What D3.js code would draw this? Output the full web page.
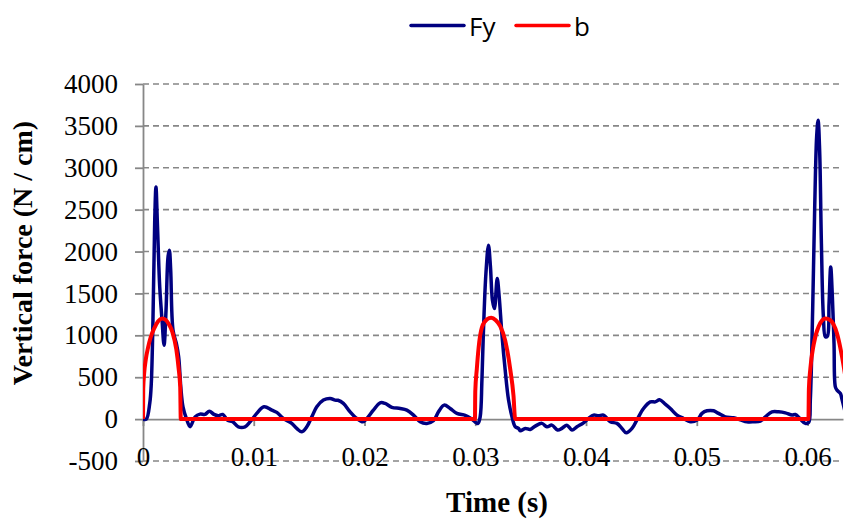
<!DOCTYPE html>
<html>
<head>
<meta charset="utf-8">
<script src="https://cdn.jsdelivr.net/npm/d3@7"></script>
<style>
  body { margin: 0; background: #fff; }
  svg { display: block; }
</style>
</head>
<body>
<svg id="chart" width="849" height="524"></svg>
<script>
// Fy series (time in s, force in N/cm)
const fyTime = [0, 0.00030, 0.00061, 0.00075, 0.00090, 0.00106, 0.00117, 0.00129, 0.00151, 0.00172,
  0.00190, 0.00208, 0.00226, 0.00238, 0.00250, 0.00271, 0.00301, 0.00322, 0.00341, 0.00361,
  0.00391, 0.00425, 0.00470, 0.00515, 0.00560, 0.00599, 0.00641, 0.00680, 0.00720, 0.00762,
  0.00810, 0.00861, 0.00921, 0.00967, 0.01027, 0.01093, 0.01163, 0.01208, 0.01267, 0.01343,
  0.01388, 0.01434, 0.01479, 0.01524, 0.01569, 0.01629, 0.01690, 0.01734, 0.01760, 0.01809,
  0.01870, 0.01930, 0.01985, 0.02021, 0.02080, 0.02141, 0.02186, 0.02247, 0.02322, 0.02382,
  0.02442, 0.02502, 0.02563, 0.02622, 0.02668, 0.02719, 0.02773, 0.02834, 0.02909, 0.02954,
  0.02999, 0.03024, 0.03044, 0.03060, 0.03074, 0.03096, 0.03119, 0.03137, 0.03155, 0.03173,
  0.03198, 0.03216, 0.03240, 0.03270, 0.03300, 0.03331, 0.03360, 0.03390, 0.03406, 0.03451,
  0.03496, 0.03541, 0.03602, 0.03647, 0.03692, 0.03743, 0.03782, 0.03827, 0.03873, 0.03918,
  0.03977, 0.04023, 0.04068, 0.04113, 0.04158, 0.04219, 0.04279, 0.04324, 0.04363, 0.04415,
  0.04460, 0.04519, 0.04580, 0.04625, 0.04664, 0.04715, 0.04761, 0.04821, 0.04881, 0.04941,
  0.05002, 0.05047, 0.05092, 0.05152, 0.05197, 0.05257, 0.05332, 0.05393, 0.05453, 0.05513,
  0.05574, 0.05619, 0.05679, 0.05739, 0.05799, 0.05860, 0.05890, 0.05935, 0.05980, 0.06010,
  0.06025, 0.06046, 0.06064, 0.06082, 0.06095, 0.06109, 0.06125, 0.06143, 0.06161, 0.06179,
  0.06194, 0.06209, 0.06224, 0.06239, 0.06251, 0.06266, 0.06296, 0.06312, 0.06335];
const fyValue = [0, 0, 190, 430, 1180, 2375, 2770, 2375, 1578, 1181,
  883, 1300, 1936, 2016, 1778, 1062, 903, 743, 385, 147,
  10, -90, 27, 60, 56, 95, 56, 40, 56, -12,
  -32, -92, -92, -32, 68, 147, 107, 80, 8, -51,
  -111, -151, -92, 27, 147, 227, 247, 227, 225, 187,
  87, 8, -32, 8, 107, 195, 187, 140, 127, 107,
  48, -32, -51, -20, 87, 167, 127, 68, 45, 15,
  -35, -51, 27, 465, 1062, 1738, 2076, 1817, 1420, 1320,
  1679, 1460, 1022, 585, 230, 30, -90, -111, -140, -111,
  -123, -84, -51, -92, -72, -131, -111, -72, -131, -92,
  -44, 8, 48, 39, 48, -32, -51, -111, -163, -111,
  -8, 127, 206, 206, 230, 179, 127, 48, 8, -32,
  -12, 68, 99, 99, 68, 27, 16, -8, -32, -32,
  -24, 27, 87, 87, 75, 48, 55, 0, -51, -40,
  230, 1300, 2493, 3368, 3567, 3209, 2096, 1220, 982, 990,
  1380, 1817, 1460, 903, 385, 346, 306, 230, 107];

// b series
const bTime = [0, 0.00002, 0.00010, 0.00025, 0.00045, 0.00070, 0.00100, 0.00135, 0.00172, 0.00205,
  0.00235, 0.00265, 0.00301, 0.00322, 0.00336, 0.00341,
  0.02997, 0.03000, 0.03014, 0.03030, 0.03060, 0.03105, 0.03144, 0.03185, 0.03225, 0.03270,
  0.03315, 0.03345, 0.03360,
  0.06008, 0.06012, 0.06025, 0.06055, 0.06100, 0.06161, 0.06206, 0.06266, 0.06312, 0.06340];
const bValue = [0, 360, 540, 710, 850, 980, 1080, 1165, 1200, 1185,
  1130, 1040, 830, 600, 380, 0,
  0, 330, 600, 850, 1095, 1190, 1210, 1180, 1110, 940,
  600, 280, 0,
  0, 360, 600, 890, 1105, 1200, 1180, 1020, 740, 520];

const seriesNames = ["Fy", "b"];
const seriesColors = ["#000080", "#ff0000"];
const yTicks = [-500, 0, 500, 1000, 1500, 2000, 2500, 3000, 3500, 4000];
const xTicks = [0, 0.01, 0.02, 0.03, 0.04, 0.05, 0.06];

const svg = d3.select("#chart");
const plotLeft = 143, plotRight = 843, plotTop = 84, plotBottom = 461;
const gray = "#878787";
const serif = "'Liberation Serif', 'Times New Roman', serif";

const x = d3.scaleLinear().domain([0, 0.0632]).range([plotLeft, plotRight]);
const y = d3.scaleLinear().domain([-500, 4000]).range([plotBottom, plotTop]);

svg.append("rect").attr("width", 849).attr("height", 524).attr("fill", "#fff");

// dashed gridlines
svg.append("g")
  .selectAll("line")
  .data(yTicks.filter(d => d !== 0))
  .enter().append("line")
  .attr("x1", plotLeft).attr("x2", plotRight)
  .attr("y1", d => y(d)).attr("y2", d => y(d))
  .attr("stroke", gray)
  .attr("stroke-width", 1.6)
  .attr("stroke-dasharray", "6,4");

// y axis
const yAxis = svg.append("g")
  .attr("transform", `translate(${plotLeft},0)`)
  .call(d3.axisLeft(y).tickValues(yTicks).tickSize(8).tickSizeOuter(0).tickPadding(17)
    .tickFormat(d => String(d)))
  .attr("font-family", serif)
  .attr("font-size", 27);
yAxis.selectAll("path, line").attr("stroke", gray).attr("stroke-width", 1.8);
yAxis.selectAll("text").attr("fill", "#000");

// x axis on the zero line
const xAxis = svg.append("g")
  .attr("transform", `translate(0,${y(0)})`)
  .call(d3.axisBottom(x).tickValues(xTicks).tickSize(7).tickSizeOuter(0)
    .tickFormat(d => d === 0 ? "0" : d3.format(".2f")(d)))
  .attr("font-family", serif)
  .attr("font-size", 27);
xAxis.selectAll("path, line").attr("stroke", gray).attr("stroke-width", 1.8);
xAxis.selectAll("text")
  .attr("y", 466 - y(0))
  .attr("dy", 0)
  .attr("fill", "#000");

// axis titles
svg.append("text")
  .attr("transform", "translate(32,253) rotate(-90)")
  .attr("text-anchor", "middle")
  .attr("font-family", serif)
  .attr("font-weight", "bold")
  .attr("font-size", 28)
  .text("Vertical force (N / cm)");

svg.append("text")
  .attr("x", 497).attr("y", 512)
  .attr("text-anchor", "middle")
  .attr("font-family", serif)
  .attr("font-weight", "bold")
  .attr("font-size", 29)
  .text("Time (s)");

// clip to plot area
svg.append("clipPath").attr("id", "plotClip")
  .append("rect").attr("x", plotLeft).attr("y", 0).attr("width", plotRight - plotLeft).attr("height", 524);

const plot = svg.append("g").attr("clip-path", "url(#plotClip)");

const fyData = fyTime.map((t, i) => ({ t, v: fyValue[i] }));
const bData = bTime.map((t, i) => ({ t, v: bValue[i] }));

plot.append("path")
  .datum(fyData)
  .attr("fill", "none")
  .attr("stroke", seriesColors[0])
  .attr("stroke-width", 3.5)
  .attr("stroke-linejoin", "round")
  .attr("d", d3.line().x(d => x(d.t)).y(d => y(d.v)).curve(d3.curveCatmullRom.alpha(0.5)));

plot.append("path")
  .datum(bData)
  .attr("fill", "none")
  .attr("stroke", seriesColors[1])
  .attr("stroke-width", 4)
  .attr("stroke-linejoin", "round")
  .attr("d", d3.line().x(d => x(d.t)).y(d => y(d.v)).curve(d3.curveMonotoneX));

// legend
const legendX = [411, 516];
const legend = svg.append("g");
seriesNames.forEach((name, i) => {
  legend.append("line")
    .attr("x1", legendX[i]).attr("x2", legendX[i] + 53)
    .attr("y1", 25.5).attr("y2", 25.5)
    .attr("stroke", seriesColors[i])
    .attr("stroke-width", 3.5)
    .attr("stroke-linecap", "round");
  legend.append("text")
    .attr("x", legendX[i] + 58).attr("y", 36)
    .attr("font-family", "'Open Sans', sans-serif")
    .attr("font-size", 26)
    .attr("fill", "#000")
    .text(name);
});
</script>
</body>
</html>
